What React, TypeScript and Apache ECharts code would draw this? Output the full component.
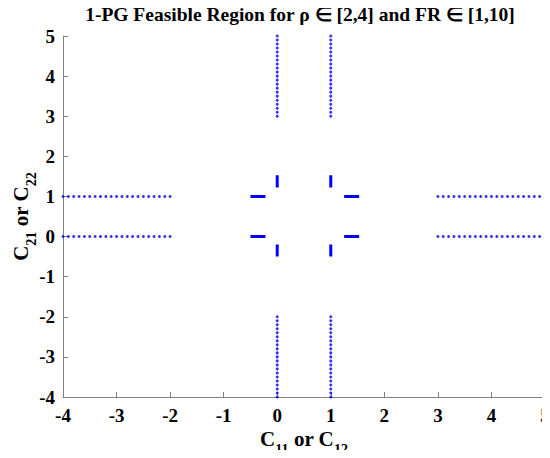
import React, { useEffect, useRef } from "react";
import * as echarts from "echarts";

// Dotted far-out segments (step 0.1)
const leftX = [-4, -3.9, -3.8, -3.7, -3.6, -3.5, -3.4, -3.3, -3.2, -3.1, -3, -2.9, -2.8, -2.7, -2.6, -2.5, -2.4, -2.3, -2.2, -2.1, -2];
const rightX = [3, 3.1, 3.2, 3.3, 3.4, 3.5, 3.6, 3.7, 3.8, 3.9, 4, 4.1, 4.2, 4.3, 4.4, 4.5, 4.6, 4.7, 4.8, 4.9, 5];
const topY = [3, 3.1, 3.2, 3.3, 3.4, 3.5, 3.6, 3.7, 3.8, 3.9, 4, 4.1, 4.2, 4.3, 4.4, 4.5, 4.6, 4.7, 4.8, 4.9, 5];
const bottomY = [-4, -3.9, -3.8, -3.7, -3.6, -3.5, -3.4, -3.3, -3.2, -3.1, -3, -2.9, -2.8, -2.7, -2.6, -2.5, -2.4, -2.3, -2.2, -2.1, -2];
const rowLevels = [0, 1]; // y values of horizontal dotted rows
const colLevels = [0, 1]; // x values of vertical dotted columns

// Short solid dashes near the centre: [x1, y1, x2, y2]
const dashes: number[][] = [
  [-0.5, 1, -0.22, 1],
  [-0.5, 0, -0.22, 0],
  [1.25, 1, 1.53, 1],
  [1.25, 0, 1.53, 0],
  [0, 1.22, 0, 1.53],
  [0, -0.5, 0, -0.2],
  [1, 1.22, 1, 1.53],
  [1, -0.5, 1, -0.2],
];

const xTicks = [-4, -3, -2, -1, 0, 1, 2, 3, 4, 5];
const yTicks = [-4, -3, -2, -1, 0, 1, 2, 3, 4, 5];

const BLUE = "#0000ff";
const FONT = "'Liberation Serif', 'Times New Roman', serif";

export default function App() {
  const ref = useRef<HTMLDivElement>(null);
  useEffect(() => {
    if (!ref.current) return;
    const chart = echarts.init(ref.current, null, { renderer: "svg" });
    const dots: number[][] = [];
    rowLevels.forEach((y) => {
      leftX.forEach((x) => dots.push([x, y]));
      rightX.forEach((x) => dots.push([x, y]));
    });
    colLevels.forEach((x) => {
      topY.forEach((y) => dots.push([x, y]));
      bottomY.forEach((y) => dots.push([x, y]));
    });
    const dashSeries = dashes.map((d) => ({
      type: "line",
      data: [
        [d[0], d[1]],
        [d[2], d[3]],
      ],
      showSymbol: false,
      lineStyle: { color: BLUE, width: 3, cap: "butt" },
      silent: true,
    }));
    const nameRich = {
      a: { fontSize: 21, lineHeight: 28, fontWeight: "bold", fontFamily: FONT, color: "#000", verticalAlign: "top" },
      b: { fontSize: 14, lineHeight: 28, fontWeight: "bold", fontFamily: FONT, color: "#000", verticalAlign: "bottom" },
    };
    chart.setOption({
      animation: false,
      backgroundColor: "#fff",
      title: {
        text: "1-PG Feasible Region for ρ ∈ [2,4] and FR ∈ [1,10]",
        left: 295,
        textAlign: "center",
        top: -1,
        textStyle: { fontFamily: FONT, fontWeight: "bold", fontSize: 19.5, color: "#000" },
      },
      grid: { left: 63, right: 5, top: 36, bottom: 61, containLabel: false, outerBoundsMode: "none" },
      xAxis: {
        type: "value",
        min: xTicks[0],
        max: xTicks[xTicks.length - 1],
        interval: 1,
        splitLine: { show: false },
        axisLine: { onZero: false, lineStyle: { color: "#808080", width: 1 } },
        axisTick: { inside: true, length: 5, lineStyle: { color: "#808080" } },
        axisLabel: { fontFamily: FONT, fontWeight: "bold", fontSize: 19, color: "#000", margin: 9 },
        name: "{a|C}{b|11}{a| or C}{b|12}",
        nameLocation: "middle",
        nameGap: 31,
        nameMoveOverlap: false,
        nameTextStyle: { rich: nameRich },
      },
      yAxis: {
        type: "value",
        min: yTicks[0],
        max: yTicks[yTicks.length - 1],
        interval: 1,
        splitLine: { show: false },
        axisLine: { onZero: false, lineStyle: { color: "#808080", width: 1 } },
        axisTick: { inside: true, length: 5, lineStyle: { color: "#808080" } },
        axisLabel: { fontFamily: FONT, fontWeight: "bold", fontSize: 19, color: "#000", margin: 8 },
        name: "{a|C}{b|21}{a| or C}{b|22}",
        nameLocation: "middle",
        nameGap: 25,
        nameRotate: 90,
        nameMoveOverlap: false,
        nameTextStyle: { rich: nameRich },
      },
      series: [
        {
          type: "scatter",
          data: dots,
          symbol: "circle",
          symbolSize: 3,
          itemStyle: { color: BLUE },
          silent: true,
        },
        ...dashSeries,
      ],
    });
    return () => chart.dispose();
  }, []);
  return <div ref={ref} style={{ width: 550, height: 458, margin: -8 }} />;
}
